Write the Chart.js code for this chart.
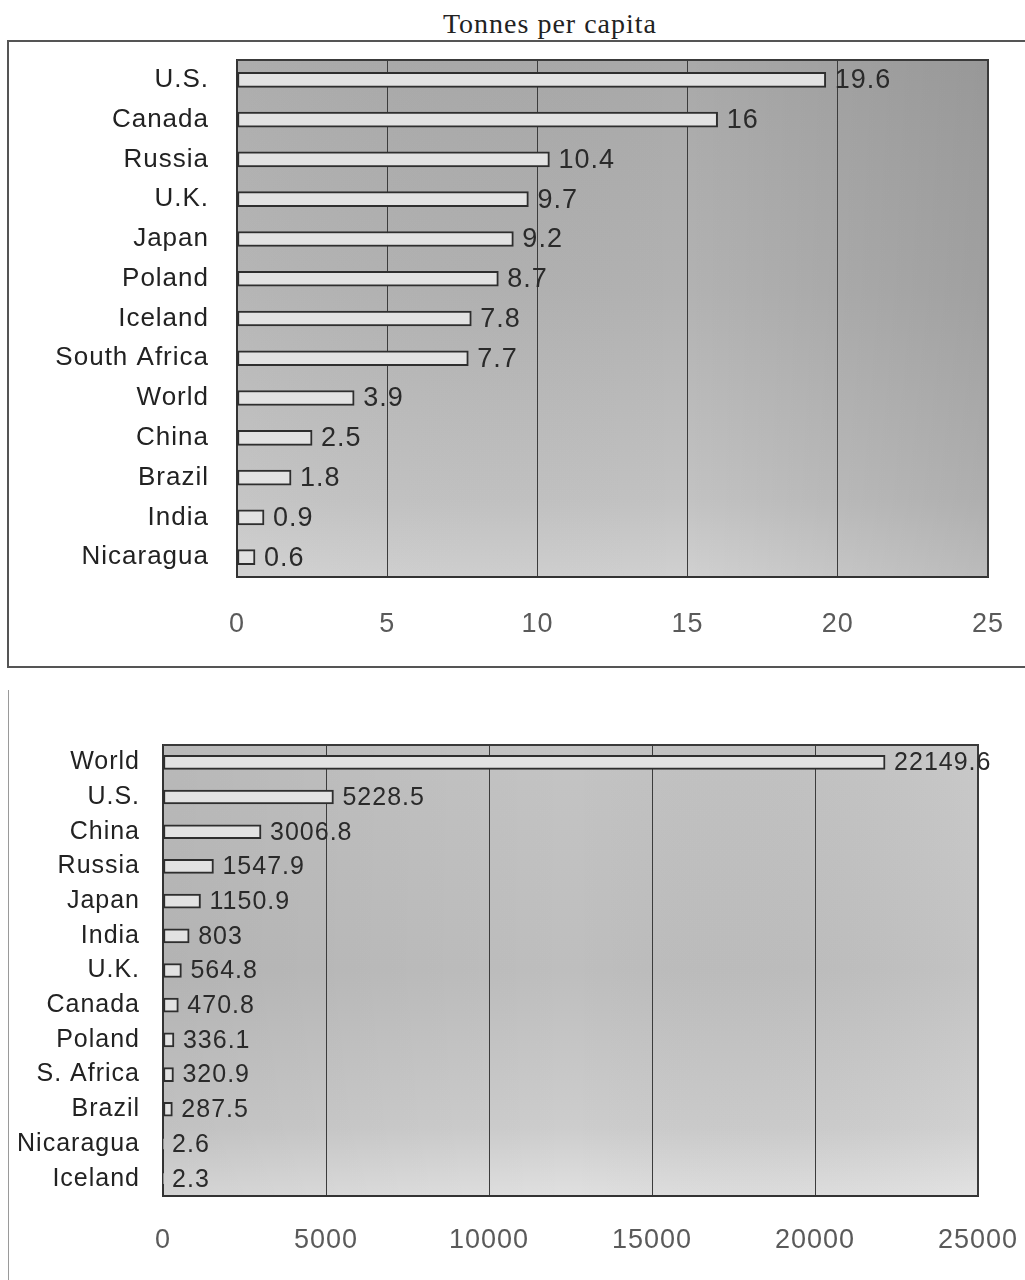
<!DOCTYPE html>
<html>
<head>
<meta charset="utf-8">
<script src="https://cdn.jsdelivr.net/npm/chart.js@4.4.1/dist/chart.umd.min.js"></script>
<style>
  html, body { margin: 0; padding: 0; background: #ffffff; }
  body { width: 1025px; height: 1280px; position: relative; overflow: hidden; }
  #title {
    position: absolute; left: 0; width: 1100px; top: 8px; text-align: center;
    font-family: "Liberation Serif", "DejaVu Serif", serif; font-size: 28px; color: #222;
    letter-spacing: 1px;
  }
  #frame1 {
    position: absolute; left: 7px; top: 40px; width: 1040px; height: 624px;
    border-top: 2px solid #555; border-left: 2px solid #555; border-bottom: 2px solid #555;
  }
  #frame2 {
    position: absolute; left: 8px; top: 690px; width: 1px; height: 600px; background: #9a9a9a;
  }
  #c1 { position: absolute; left: 9px; top: 42px; }
  #c2 { position: absolute; left: 9px; top: 692px; }
</style>
</head>
<body>
<div id="title">Tonnes per capita</div>
<div id="frame1"></div>
<div id="frame2"></div>
<canvas id="c1" width="1016" height="622"></canvas>
<canvas id="c2" width="1016" height="588"></canvas>
<script>
// Per-capita emissions (tonnes per person)
const perCapitaCountries = ['U.S.', 'Canada', 'Russia', 'U.K.', 'Japan', 'Poland', 'Iceland',
  'South Africa', 'World', 'China', 'Brazil', 'India', 'Nicaragua'];
const perCapitaValues = [19.6, 16, 10.4, 9.7, 9.2, 8.7, 7.8, 7.7, 3.9, 2.5, 1.8, 0.9, 0.6];
const perCapitaTicks = [0, 5, 10, 15, 20, 25];

// Total emissions
const totalCountries = ['World', 'U.S.', 'China', 'Russia', 'Japan', 'India', 'U.K.', 'Canada',
  'Poland', 'S. Africa', 'Brazil', 'Nicaragua', 'Iceland'];
const totalValues = [22149.6, 5228.5, 3006.8, 1547.9, 1150.9, 803, 564.8, 470.8, 336.1, 320.9, 287.5, 2.6, 2.3];
const totalTicks = [0, 5000, 10000, 15000, 20000, 25000];

const FONT = '"Liberation Sans", Arial, sans-serif';

// Shaded plot background, frame on the open sides, and value labels beside bars
const plotDecor = {
  id: 'plotDecor',
  beforeDraw(chart, args, opts) {
    const ctx = chart.ctx;
    ctx.letterSpacing = '1px';
    const a = chart.chartArea;
    ctx.save();
    const g = ctx.createLinearGradient(0, a.top, 0, a.bottom);
    opts.vStops.forEach(s => g.addColorStop(s[0], s[1]));
    ctx.fillStyle = g;
    ctx.fillRect(a.left, a.top, a.right - a.left, a.bottom - a.top);
    const h = ctx.createLinearGradient(a.left, 0, a.right, 0);
    opts.hStops.forEach(s => h.addColorStop(s[0], s[1]));
    ctx.fillStyle = h;
    ctx.fillRect(a.left, a.top, a.right - a.left, a.bottom - a.top);
    ctx.restore();
  },
  afterDatasetsDraw(chart, args, opts) {
    const ctx = chart.ctx;
    const a = chart.chartArea;
    ctx.save();
    ctx.strokeStyle = '#3a3a3a';
    ctx.lineWidth = 2;
    ctx.beginPath();
    ctx.moveTo(a.left, a.top);
    ctx.lineTo(a.right, a.top);
    ctx.lineTo(a.right, a.bottom);
    ctx.stroke();

    ctx.letterSpacing = '1px';
    ctx.font = opts.labelSize + 'px ' + FONT;
    ctx.fillStyle = '#2a2a2a';
    ctx.textBaseline = 'middle';
    ctx.textAlign = 'left';
    const meta = chart.getDatasetMeta(0);
    const vals = chart.data.datasets[0].data;
    meta.data.forEach((bar, i) => {
      ctx.fillText(String(vals[i]), bar.x + opts.offset, bar.y + 1);
    });
    ctx.restore();
  }
};

function makeChart(id, cats, vals, ticks, cfg) {
  return new Chart(document.getElementById(id), {
    type: 'bar',
    data: {
      labels: cats,
      datasets: [{
        data: vals,
        backgroundColor: '#e2e2e2',
        borderColor: '#2e2e2e',
        borderWidth: 2,
        borderSkipped: false,
        barThickness: cfg.barThickness
      }]
    },
    options: {
      indexAxis: 'y',
      responsive: false,
      animation: false,
      devicePixelRatio: 1,
      layout: { padding: { top: cfg.padTop, right: cfg.padRight, left: 0, bottom: 0 } },
      plugins: {
        legend: { display: false },
        tooltip: { enabled: false },
        plotDecor: {
          vStops: cfg.vStops, hStops: cfg.hStops,
          labelSize: cfg.labelSize, offset: 9
        }
      },
      scales: {
        x: {
          min: ticks[0], max: ticks[ticks.length - 1],
          afterBuildTicks: s => { s.ticks = ticks.map(v => ({ value: v })); },
          afterFit: s => { s.height = cfg.xHeight; s.paddingLeft = 0; s.paddingRight = 0; },
          ticks: {
            color: '#5a5a5a', padding: cfg.xPad,
            font: { family: FONT, size: cfg.tickSize },
            maxRotation: 0, autoSkip: false,
            callback: v => String(v)
          },
          grid: { color: '#3c3c3c', lineWidth: 1, drawTicks: false },
          border: { color: '#333', width: 2 }
        },
        y: {
          afterFit: s => { s.width = cfg.yWidth; s.paddingTop = 0; s.paddingBottom = 0; },
          ticks: {
            color: '#222', padding: cfg.yPad,
            font: { family: FONT, size: cfg.catSize }
          },
          grid: { display: false, drawTicks: false },
          border: { color: '#333', width: 2 }
        }
      }
    },
    plugins: [plotDecor]
  });
}

makeChart('c1', perCapitaCountries, perCapitaValues, perCapitaTicks, {
  barThickness: 15, padTop: 18, padRight: 37, xHeight: 87, xPad: 31, yWidth: 228, yPad: 28,
  catSize: 26, tickSize: 27, labelSize: 27,
  vStops: [[0, '#a9a9a9'], [0.45, '#b2b2b2'], [0.85, '#c2c2c2'], [1, '#d0d0d0']],
  hStops: [[0, 'rgba(255,255,255,0.05)'], [0.6, 'rgba(0,0,0,0)'], [1, 'rgba(0,0,0,0.10)']]
});

makeChart('c2', totalCountries, totalValues, totalTicks, {
  barThickness: 14, padTop: 53, padRight: 47, xHeight: 84, xPad: 28, yWidth: 154, yPad: 23,
  catSize: 25, tickSize: 27, labelSize: 25,
  vStops: [[0, '#c4c4c4'], [0.5, '#bebebe'], [0.85, '#cdcdcd'], [1, '#e0e0e0']],
  hStops: [[0, 'rgba(0,0,0,0.06)'], [0.5, 'rgba(0,0,0,0)'], [1, 'rgba(255,255,255,0.08)']]
});
</script>
</body>
</html>
